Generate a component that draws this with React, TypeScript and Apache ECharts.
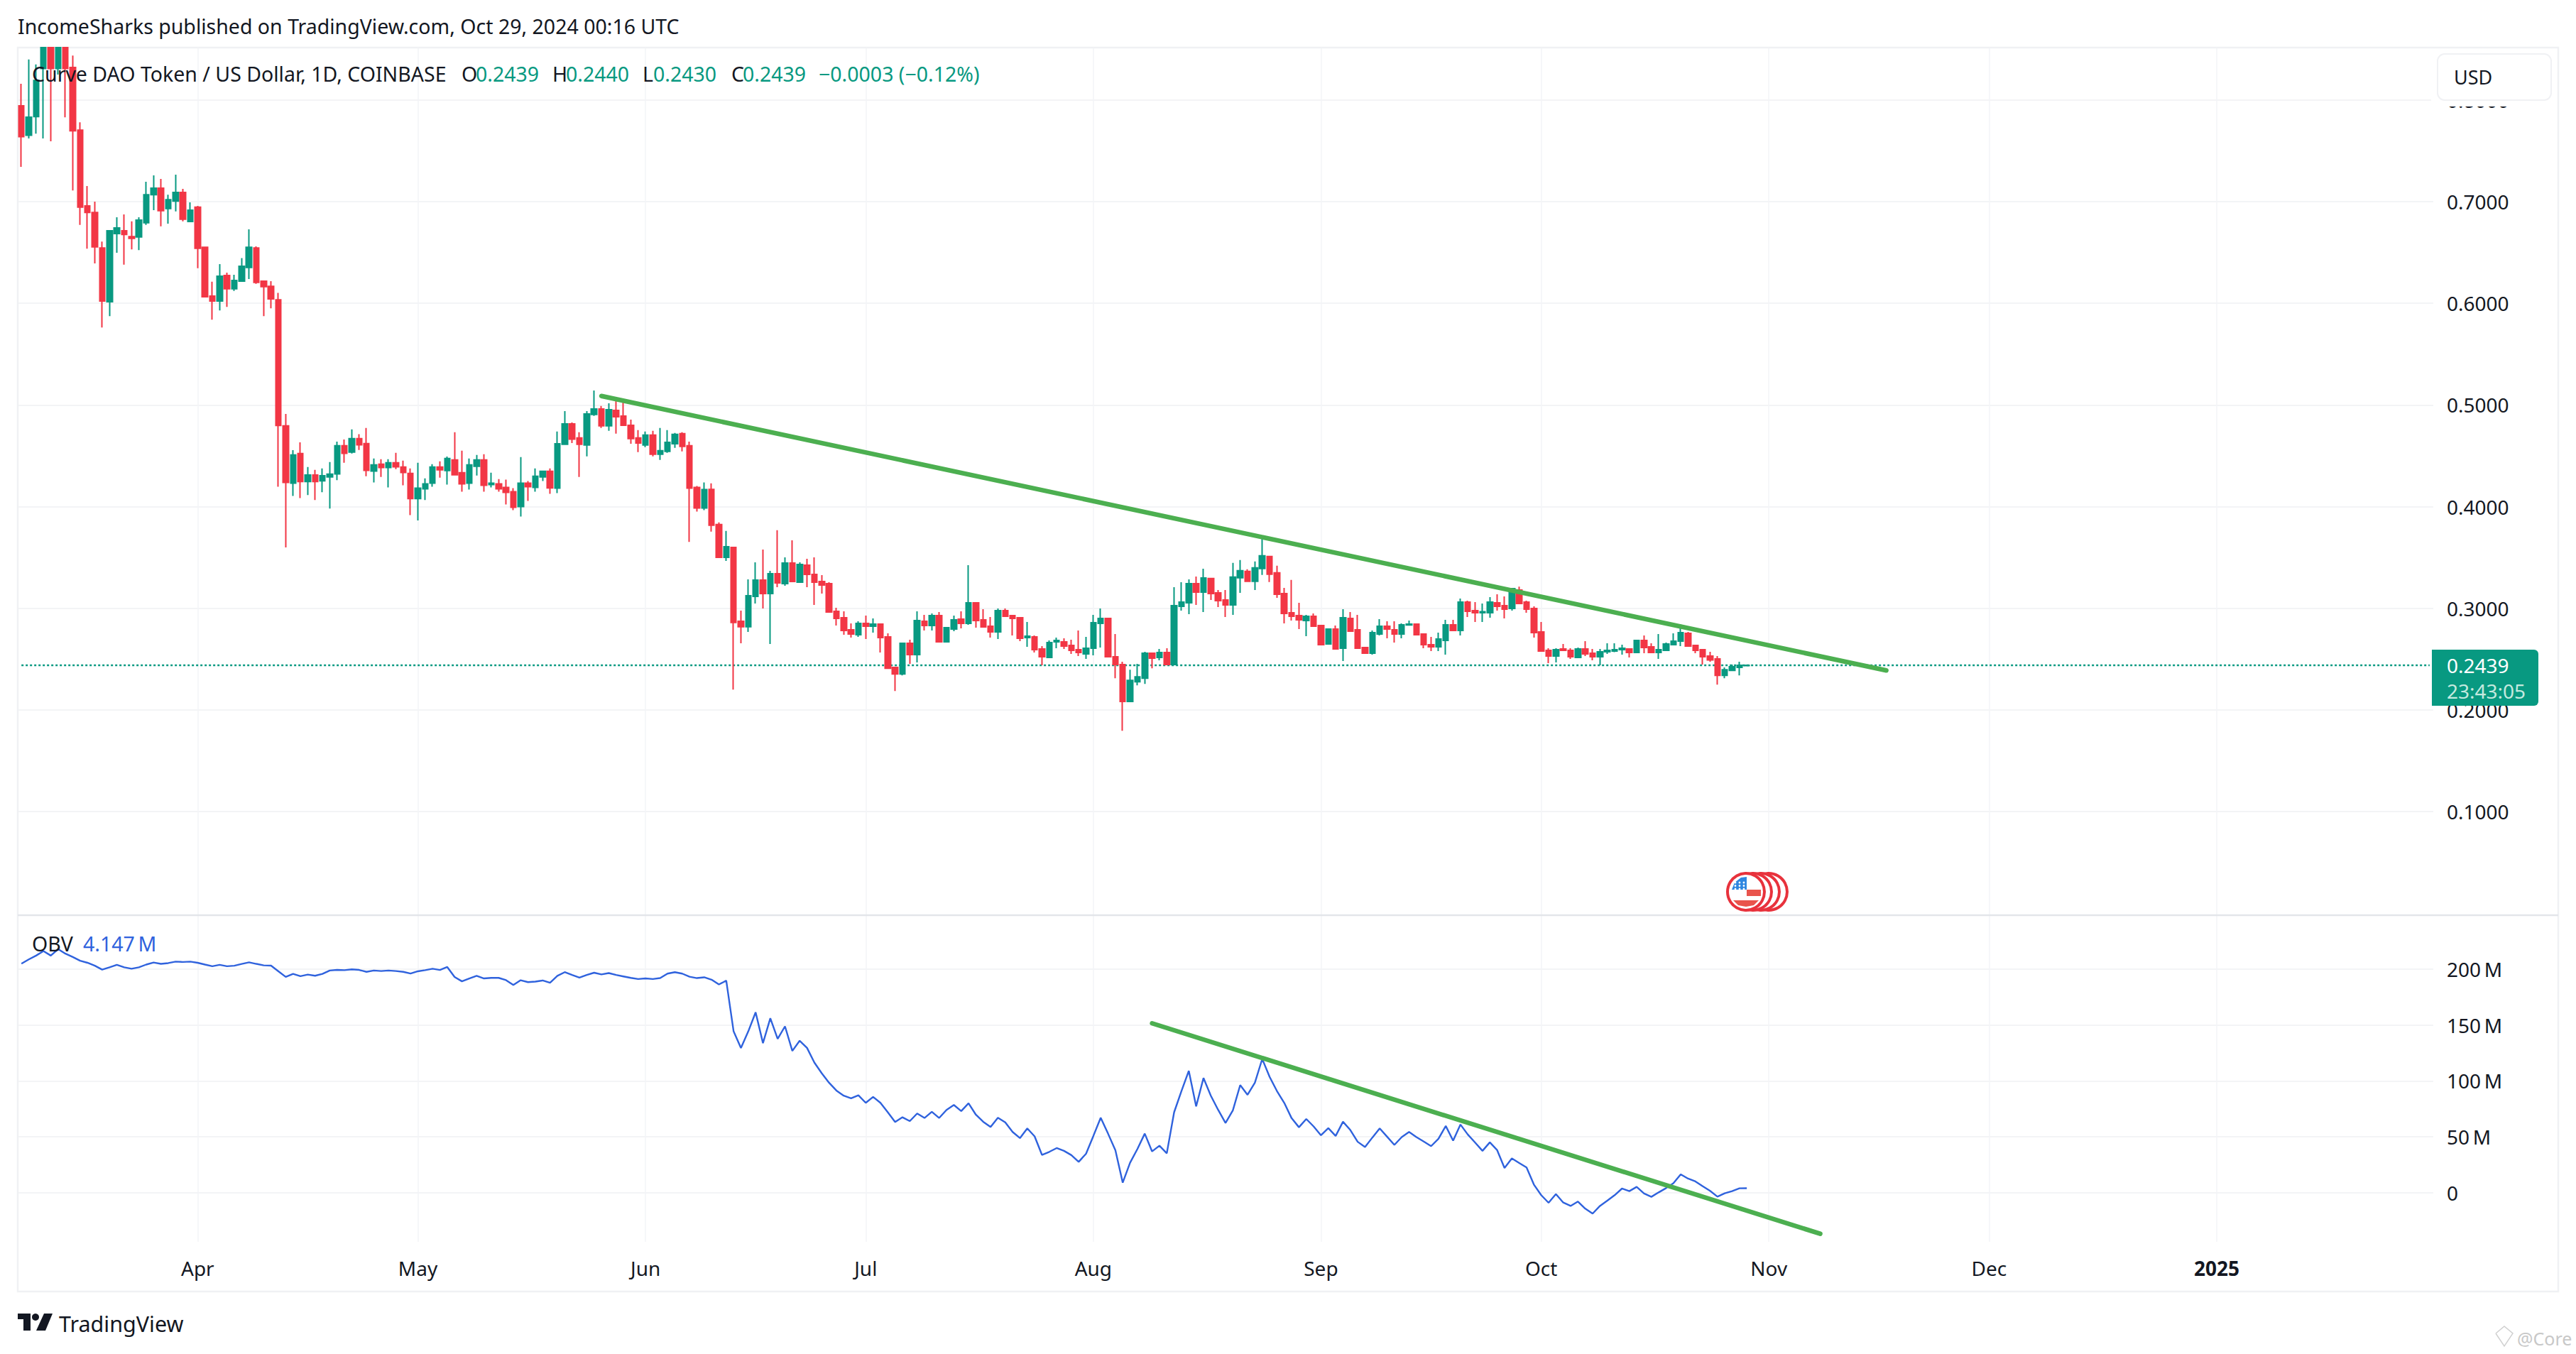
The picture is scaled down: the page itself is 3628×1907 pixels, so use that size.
import React, { useEffect, useRef } from "react";
import * as echarts from "echarts";

const FONT = '"Noto Sans", sans-serif';
const UP = "#089981";
const DOWN = "#f23645";

const priceTicks = [0.1, 0.2, 0.3, 0.4, 0.5, 0.6, 0.7, 0.8];
const obvTicks = [0, 50, 100, 150, 200];

const opens = [
  .7944,.7653,.7837,.831,.8516,.831,.8516,.832,.7704,.6958,.6893,.6545,.6016,.6685,.6713,.6657,.6653,.6793,.7068,.7133,
  .6932,.7005,.7091,.6804,.6946,.6552,.6072,.6023,.6273,.6142,.6217,.6352,.6545,.6217,.6168,.6035,.4794,.423,.4522,.4246,
  .4311,.4253,.4292,.4322,.4599,.4536,.4668,.462,.435,.4418,.4385,.4432,.439,.4327,.4079,.4174,.423,.439,.4355,.4459,
  .4334,.423,.4397,.4459,.4216,.4223,.4188,.4146,.4,.423,.4188,.4292,.4348,.4181,.4613,.4814,.4675,.4606,.4907,.4961,
  .4794,.4947,.4891,.48,.4675,.4606,.4703,.4515,.4543,.4619,.4717,.4599,.4188,.3986,.417,.3823,.3501,.3599,.2872,.2818,
  .3117,.3277,.3144,.334,.3242,.3445,.3256,.3424,.3333,.3263,.3242,.297,.2907,.2788,.2739,.2851,.2823,.2844,.2718,.2417,
  .2354,.2655,.2543,.2872,.283,.2928,.2669,.2795,.2893,.2851,.3054,.2886,.2823,.2767,.2977,.2928,.2907,.2711,.2718,.2599,
  .2515,.2669,.2669,.2634,.2592,.255,.2606,.2851,.29,.2522,.2445,.2082,.2277,.2312,.2557,.2515,.2564,.2445,.3019,.3054,
  .3242,.3158,.3292,.3152,.3082,.3033,.3299,.3362,.3264,.339,.3509,.3348,.3145,.2956,.2928,.2879,.2921,.283,.2648,.2795,
  .2606,.29,.2788,.2613,.2557,.2746,.2823,.2788,.2746,.2835,.2844,.2746,.2641,.262,.2683,.2837,.2781,.3061,.2977,.2956,
  .2956,.3054,.3026,.2998,.318,.3061,.2998,.2767,.2585,.2529,.2599,.2585,.2515,.2599,.2557,.2522,.2571,.2578,.2592,.2599,
  .2564,.2683,.262,.2564,.2585,.2641,.2676,.2753,.2634,.2592,.2529,.2501,.234,.2389,.2417,.2435,
];
const closes = [
  .7639,.7832,.8193,.8516,.831,.8516,.831,.7697,.6946,.6893,.6555,.6023,.6713,.6741,.6678,.6639,.6818,.7068,.7133,.6911,
  .7019,.7091,.6827,.6916,.6541,.6065,.6023,.6266,.6142,.6224,.6364,.6552,.6205,.6163,.6044,.4798,.4237,.4508,.4246,.4311,
  .4246,.4304,.432,.4599,.4524,.4668,.4608,.4357,.4411,.4385,.4432,.4392,.4336,.4079,.4181,.4223,.439,.4362,.4473,.4313,
  .4223,.4411,.4459,.4209,.423,.4174,.4139,.3993,.423,.4195,.4299,.4348,.4183,.4619,.4814,.4664,.4613,.4912,.4961,.4794,
  .4954,.4884,.48,.4668,.4626,.4703,.4515,.455,.4633,.471,.4592,.4181,.3986,.4167,.3816,.3501,.3606,.286,.2818,.3124,
  .3277,.3144,.334,.3249,.3445,.3263,.3431,.3333,.3256,.3228,.2963,.29,.2781,.2746,.2851,.2823,.2844,.2711,.241,.2354,
  .2655,.2543,.2879,.283,.2928,.2669,.2809,.2886,.2851,.3054,.2879,.2816,.2767,.2977,.2921,.29,.2704,.2725,.2592,.2522,
  .2662,.2683,.2627,.2585,.2564,.2606,.2858,.29,.2522,.2445,.2082,.2291,.2326,.2557,.2508,.2564,.2445,.3026,.3061,.3242,
  .3158,.3298,.3145,.3075,.3033,.3306,.3369,.3264,.3397,.3516,.3334,.3138,.2949,.2921,.2886,.2921,.2823,.2641,.2795,.2599,
  .2907,.2774,.2606,.2557,.276,.2823,.2795,.2746,.2837,.2844,.2739,.2641,.262,.2697,.2837,.2781,.3061,.297,.2956,.2967,
  .3061,.3019,.2991,.3194,.3047,.2991,.276,.2578,.2529,.2592,.2585,.2522,.2599,.255,.2522,.2571,.2585,.2592,.2606,.2564,
  .2683,.2613,.2564,.2592,.2648,.2676,.276,.2627,.2585,.2522,.2491,.234,.2396,.2424,.2438,.2439,
];
const highs = [
  .8159,.8399,.835,.8516,.8516,.8516,.8516,.8438,.7781,.7154,.7,.6608,.6713,.6846,.6874,.6807,.6846,.7196,.7259,.7224,
  .7068,.7266,.7126,.6993,.6958,.6552,.6212,.6385,.6301,.628,.6445,.6727,.656,.6224,.6217,.6103,.4912,.4555,.4633,.439,
  .4362,.4376,.4439,.464,.4661,.4759,.4712,.4773,.4473,.4466,.4466,.4529,.4452,.4376,.4432,.4278,.4418,.4445,.4492,.4731,
  .455,.4473,.4508,.4515,.4334,.4271,.4265,.4181,.4487,.4251,.4376,.4355,.4376,.4738,.494,.4828,.4731,.494,.5142,.4991,
  .5016,.5058,.5058,.4856,.4752,.4738,.4745,.4773,.4752,.4724,.4731,.464,.4202,.4237,.4228,.3844,.376,.3599,.2977,.3284,
  .3452,.3578,.3368,.3767,.3501,.3669,.3452,.3487,.3501,.3326,.3256,.3005,.297,.2851,.2872,.2928,.29,.2844,.2753,.2417,
  .2655,.269,.297,.2935,.2949,.2963,.2816,.2928,.297,.3424,.3054,.2991,.2914,.2998,.2998,.2935,.2907,.2865,.2732,.2627,
  .2683,.2711,.2704,.269,.2781,.2718,.2935,.2998,.29,.2746,.2473,.2396,.2452,.2571,.2557,.2599,.2606,.3207,.3256,.3284,
  .3312,.3389,.3296,.318,.318,.3446,.3474,.3383,.346,.3684,.3509,.3418,.3201,.3278,.3054,.2935,.2949,.283,.2795,.283,
  .2991,.2963,.2935,.2613,.2781,.2893,.2872,.2872,.2851,.2879,.2844,.2746,.2718,.276,.2886,.2886,.3096,.3075,.3061,.3047,
  .311,.3138,.3117,.3201,.3212,.3075,.3019,.2865,.2606,.2606,.2648,.2606,.2613,.2676,.2599,.2599,.2655,.2655,.2641,.2599,
  .269,.2732,.2655,.2746,.2662,.2753,.2844,.2767,.2641,.2592,.2571,.2529,.2417,.2445,.2473,.244,
];
const lows = [
  .7343,.7622,.7669,.7622,.7594,.825,.783,.711,.6772,.6538,.6392,.5762,.5874,.6497,.638,.6531,.6524,.6772,.6916,.6758,
  .6783,.6904,.6807,.6804,.6345,.6065,.5839,.593,.5965,.6121,.6217,.6238,.6191,.5874,.5951,.4195,.3599,.4104,.4084,.4114,
  .4065,.4142,.3981,.426,.4432,.4522,.4557,.4299,.4237,.4292,.4188,.4369,.4209,.3916,.3863,.4065,.4195,.4285,.4216,.4313,
  .4146,.4167,.4306,.4146,.4188,.4146,.4021,.3965,.3903,.4056,.4146,.4251,.4125,.4132,.4606,.4626,.4292,.4494,.4893,.4773,
  .4745,.4717,.4794,.4619,.4536,.4585,.4494,.4459,.4529,.4578,.4543,.3652,.3951,.3965,.3753,.3494,.3466,.22,.2655,.2767,
  .3047,.2998,.2648,.3207,.3221,.3263,.3249,.3207,.3033,.3144,.2956,.283,.2739,.2711,.2718,.2697,.276,.2564,.2403,.2186,
  .234,.2452,.2466,.2781,.2781,.2669,.2669,.2774,.2802,.2837,.2809,.2816,.2711,.2697,.2921,.2732,.2676,.262,.2564,.2438,
  .2515,.2606,.2599,.255,.2529,.2501,.2536,.2613,.2522,.2312,.1795,.2082,.2242,.2256,.241,.2487,.2438,.2445,.2977,.2942,
  .3033,.2963,.3082,.3012,.2914,.2935,.3152,.3257,.318,.3327,.3257,.3103,.2851,.2879,.2795,.2725,.2816,.2634,.2648,.2599,
  .248,.2767,.2606,.255,.2543,.2732,.2704,.2662,.2704,.2835,.2732,.2606,.2578,.2578,.2543,.2781,.2732,.2914,.2865,.2865,
  .2907,.2977,.29,.2977,.3047,.2956,.2711,.2578,.2459,.2466,.2585,.2501,.251,.2529,.2487,.2438,.255,.2568,.2543,.2515,
  .2557,.2557,.2557,.2501,.2578,.2634,.2627,.2627,.2557,.2445,.2473,.2249,.2312,.2382,.234,.243,
];
const obv = [
  204.8,208.6,212,216,212,217.8,213.7,210.7,207.4,205.6,203,199.5,201.5,203.8,201.5,200.3,201.5,204,205.8,204.6,
  205.3,206.6,206.3,206.6,205.6,204,202.5,203.8,202.5,203,204.6,206,204.6,203.3,203,198,193,195.7,193.6,195,
  194,195.7,198.7,199.2,199,199.7,199.2,197.5,198.7,198.2,198.7,198.2,197.5,196,198,199,200.3,199.2,201.8,192.9,
  189,191.6,193.9,191.6,192.1,192.1,190.1,185.8,190,188.3,188.8,189.8,187.8,193.9,197.2,194.7,192.4,194.7,196.7,195.2,
  196.4,194.7,193.4,192.1,191.1,191.6,191.1,191.9,195.9,197.2,195.9,193.1,191.9,192.6,190.5,186.2,189.6,144.3,129.5,144.3,
  161.3,133.8,156,137.6,148.8,126.8,135.9,129.5,116.4,106.9,98.4,91.4,86.8,84.4,87.2,80.4,85.7,80.4,72,63.3,
  67.5,64.1,70.9,66.9,72.4,66.9,74.1,78.5,73,80,69.8,63.5,58.8,67.1,62.9,54.4,48.9,57.6,50.4,33.9,
  36.6,40,37.5,33.7,27.7,34.9,50.8,67.1,52.9,38.1,9.1,26.9,39.2,52.9,37,42.1,35.3,72,91,109,
  77.2,102.6,86.8,74.1,62.4,73.7,96.3,87.6,98.4,119.6,103.7,91,80.4,66.7,58.6,66,59.3,51.4,57.8,50.8,
  63.5,56.1,45.6,40.9,49.4,57.6,50.2,42.8,49.8,54.4,49.8,45.8,41.7,48.3,59.7,46.6,61,52.1,44.9,37.5,
  45.1,38.1,22.2,30.7,26.7,22.7,7.4,-2.1,-8.9,-1.1,-8.7,-11.7,-7.8,-14.2,-18.6,-11.7,-7,-2.1,3.8,1.5,
  5.3,-.6,-3.6,.4,4.2,8.5,16.5,12.7,10.2,5.9,1.7,-3.4,-.4,1.5,4,4.147,
];

const categories: string[] = [];
for (let i = 0; i < 329; i++) {
  const d = new Date(Date.UTC(2024, 2, 8 + i));
  categories.push(d.toISOString().slice(0, 10));
}
const monthLabels: Record<string, string> = {
  "2024-04-01": "Apr", "2024-05-01": "May", "2024-06-01": "Jun", "2024-07-01": "Jul",
  "2024-08-01": "Aug", "2024-09-01": "Sep", "2024-10-01": "Oct", "2024-11-01": "Nov",
  "2024-12-01": "Dec", "2025-01-01": "{b|2025}",
};
const isMonthStart = (_: number, v: string) => v in monthLabels;

const priceTrend = [[categories[79], 0.5088], [categories[254], 0.2388]];
const obvTrend = [[categories[154], 151.5], [categories[245], -36.6]];
const lastPrice = 0.2439;
const lastPriceLine = [[categories[0], lastPrice], [categories[328], lastPrice]];

const txt = (text: string, x: number, y: number, fill = "#131722", size = 28.5) => ({
  type: "text", x, y, z: 50,
  style: { text, fill, font: `400 ${size}px ${FONT}`, textVerticalAlign: "middle", textAlign: "left" },
});

function flag(cx: number, cy: number) {
  const els: any[] = [];
  [32, 21, 10, 0].forEach((dx) =>
    els.push({ type: "circle", z: 40, shape: { cx: cx + dx, cy, r: 26 }, style: { fill: "#fff", stroke: "#e8323c", lineWidth: 4 } })
  );
  els.push({ type: "polygon", z: 41, shape: { points: [[cx - 20, cy - 3], [cx - 16, cy - 13], [cx - 7, cy - 20], [cx + 1, cy - 21], [cx + 1, cy - 3]] }, style: { fill: "#2f86e0" } });
  els.push({ type: "rect", z: 41, shape: { x: cx + 1, y: cy - 3, width: 20, height: 9 }, style: { fill: "#e9544c" } });
  els.push({ type: "polygon", z: 41, shape: { points: [[cx - 18, cy + 12], [cx + 18, cy + 12], [cx + 11, cy + 19], [cx, cy + 21], [cx - 11, cy + 19]] }, style: { fill: "#e9544c" } });
  for (let r = 0; r < 3; r++) for (let c = 0; c < 3; c++)
    els.push({ type: "circle", z: 42, shape: { cx: cx - 15 + c * 6, cy: cy - 13 + r * 4.5, r: 1.4 }, style: { fill: "#fff" } });
  return els;
}

export default function App() {
  const ref = useRef<HTMLDivElement>(null);
  useEffect(() => {
    document.body.style.margin = "0";
    document.body.style.background = "#fff";
    const chart = echarts.init(ref.current!, undefined, { renderer: "svg" });
    const splitH = { show: true, lineStyle: { color: "#f3f4f6", width: 2 } };
    const splitV = { show: true, interval: isMonthStart, alignWithLabel: true, lineStyle: { color: "#f3f4f7", width: 1.5 } };
    chart.setOption({
      animation: false,
      backgroundColor: "#fff",
      grid: [
        { left: 25, top: 67, width: 3402, height: 1222 },
        { left: 25, top: 1289, width: 3402, height: 460 },
      ],
      xAxis: [
        { type: "category", gridIndex: 0, data: categories, axisLine: { show: false }, axisTick: { show: false }, axisLabel: { show: false }, splitLine: splitV },
        {
          type: "category", gridIndex: 1, data: categories, axisLine: { show: false },
          axisTick: { show: false, alignWithLabel: true, interval: isMonthStart }, splitLine: splitV,
          axisLabel: {
            interval: isMonthStart, margin: 23, color: "#131722", fontFamily: FONT, fontSize: 28,
            formatter: (v: string) => monthLabels[v] || "",
            rich: { b: { fontFamily: FONT, fontSize: 28, fontWeight: 700, color: "#131722" } },
          },
        },
      ],
      yAxis: [
        {
          type: "value", gridIndex: 0, position: "right", min: -0.002, max: 0.8516, scale: false,
          axisLine: { show: false }, axisTick: { show: false, customValues: priceTicks }, splitLine: splitH,
          axisLabel: { customValues: priceTicks, align: "left", margin: 19, color: "#131722", fontFamily: FONT, fontSize: 28, formatter: (v: number) => v.toFixed(4) },
        },
        {
          type: "value", gridIndex: 1, position: "right", min: -43.8, max: 248.1, scale: false,
          axisLine: { show: false }, axisTick: { show: false, customValues: obvTicks }, splitLine: splitH,
          axisLabel: { customValues: obvTicks, align: "left", margin: 19, color: "#131722", fontFamily: FONT, fontSize: 28, formatter: (v: number) => (v === 0 ? "0" : `${v}\u2009M`) },
        },
      ],
      series: [
        {
          type: "line", xAxisIndex: 0, yAxisIndex: 0, data: lastPriceLine, showSymbol: false, symbol: "none", z: 1,
          lineStyle: { color: UP, width: 2.5, type: [3, 3] },
        },
        {
          type: "candlestick", xAxisIndex: 0, yAxisIndex: 0, clip: true, barWidth: 8, z: 2,
          data: opens.map((o, i) => [o, closes[i], lows[i], highs[i]]),
          itemStyle: { color: UP, color0: DOWN, borderColor: UP, borderColor0: DOWN, borderWidth: 2 },
        },
        {
          type: "line", xAxisIndex: 0, yAxisIndex: 0, data: priceTrend, showSymbol: false, symbol: "none", z: 5,
          lineStyle: { color: "#4caf50", width: 6.5, cap: "round" },
        },
        {
          type: "line", xAxisIndex: 1, yAxisIndex: 1, data: obv, showSymbol: false, symbol: "none", z: 3,
          lineStyle: { color: "#2f62dd", width: 2.4 },
        },
        {
          type: "line", xAxisIndex: 1, yAxisIndex: 1, data: obvTrend, showSymbol: false, symbol: "none", z: 4,
          lineStyle: { color: "#4caf50", width: 6.5, cap: "round" },
        },
      ],
      graphic: {
        elements: [
          { type: "rect", z: 1, shape: { x: 25, y: 67, width: 3578, height: 1752 }, style: { fill: "none", stroke: "#f0f1f4", lineWidth: 2.5 } },
          { type: "line", z: 30, shape: { x1: 25, y1: 1289, x2: 3603, y2: 1289 }, style: { stroke: "#e3e5ea", lineWidth: 2.5 } },
          { type: "rect", z: 30, shape: { x: 3424, y: 69, width: 176, height: 81 }, style: { fill: "#fff" } },
          { type: "rect", z: 31, shape: { x: 3433, y: 76, width: 160, height: 65, r: 10 }, style: { fill: "#fff", stroke: "#f0f1f4", lineWidth: 2 } },
          txt("USD", 3456, 108, "#131722", 27),
          txt("IncomeSharks published on TradingView.com, Oct 29, 2024 00:16 UTC", 25, 37),
          txt("Curve DAO Token / US Dollar, 1D, COINBASE", 45, 104),
          txt("O", 650, 104), txt("0.2439", 670, 104, UP),
          txt("H", 778, 104), txt("0.2440", 797, 104, UP),
          txt("L", 905, 104), txt("0.2430", 920, 104, UP),
          txt("C", 1030, 104), txt("0.2439", 1046, 104, UP),
          txt("\u22120.0003 (\u22120.12%)", 1153, 104, UP),
          txt("OBV", 45, 1329), txt("4.147\u2009M", 117, 1329, "#2f62dd"),
          { type: "rect", z: 45, shape: { x: 3425, y: 915, width: 150, height: 79, r: [0, 6, 6, 0] }, style: { fill: UP } },
          txt("0.2439", 3446, 937, "#ffffff", 28),
          txt("23:43:05", 3446, 973, "#c4e9df", 28),
          ...flag(2459, 1256),
          { type: "rect", z: 50, shape: { x: 25, y: 1850, width: 18, height: 8 }, style: { fill: "#131722" } },
          { type: "rect", z: 50, shape: { x: 33, y: 1850, width: 10, height: 24 }, style: { fill: "#131722" } },
          { type: "circle", z: 50, shape: { cx: 50, cy: 1855, r: 5 }, style: { fill: "#131722" } },
          { type: "polygon", z: 50, shape: { points: [[62, 1850], [74, 1850], [64, 1874], [51, 1874]] }, style: { fill: "#131722" } },
          txt("TradingView", 83, 1864, "#131722", 30.5),
          txt("@Core", 3545, 1885, "#c8c8c8", 25),
          { type: "polyline", z: 50, shape: { points: [[3515, 1878], [3527, 1896], [3539, 1878], [3527, 1868], [3515, 1878]] }, style: { fill: "none", stroke: "#d0d0d0", lineWidth: 1.5 } },
        ],
      },
    });
    return () => chart.dispose();
  }, []);
  return <div ref={ref} style={{ width: 3628, height: 1907 }} />;
}
